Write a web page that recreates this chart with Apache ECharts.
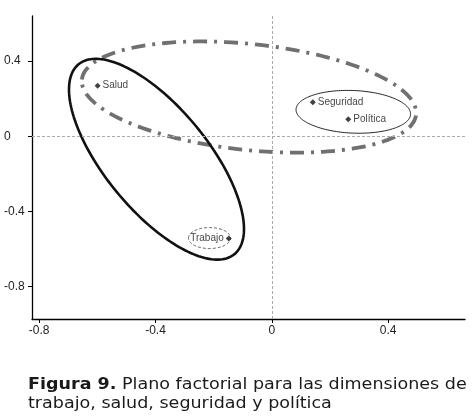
<!DOCTYPE html>
<html>
<head>
<meta charset="utf-8">
<script src="https://cdn.jsdelivr.net/npm/echarts@6/dist/echarts.min.js"></script>
<style>html,body{margin:0;padding:0;background:#fff}#c{width:474px;height:420px}</style>
</head>
<body>
<div id="c"></div>
<script>
// Points (dimension 1, dimension 2)
const categories = ['Salud', 'Seguridad', 'Política', 'Trabajo'];
const dim1 = [-0.599, 0.141, 0.263, -0.148];
const dim2 = [0.269, 0.181, 0.090, -0.544];

// Ellipses: centre and two conjugate semi-diameters, in data units
const ellipseNames = ['General', 'Salud–Trabajo', 'Seguridad–Política', 'Trabajo'];
const ellipseCx = [-0.0784, -0.3965, 0.2803, -0.2142];
const ellipseCy = [0.2087, -0.1225, 0.1299, -0.5421];
const ellipseUx = [0.5746, 0.2680, 0.1969, 0.0722];
const ellipseUy = [-0.0935, -0.5053, -0.0133, 0];
const ellipseVx = [-0.0191, -0.1368, -0.0032, 0];
const ellipseVy = [-0.2807, -0.1741, -0.1133, -0.0559];

// Tick labels
const xTickValues = [-0.8, -0.4, 0, 0.4];
const xTickLabels = ['-0.8', '-0.4', '0', '0.4'];
const yTickValues = [0.4, 0, -0.4, -0.8];
const yTickLabels = ['0.4', '0', '-0.4', '-0.8'];

const labelSide = { 'Salud': 'right', 'Seguridad': 'right', 'Política': 'right', 'Trabajo': 'left' };
const ellipseStyles = [
  { stroke: '#707070', lineWidth: 3.8, lineDash: [14, 7, 3, 7], lineCap: 'butt' },
  { stroke: '#111111', lineWidth: 2.6 },
  { stroke: '#222222', lineWidth: 1 },
  { stroke: '#555555', lineWidth: 1, lineDash: [3, 2] }
];

function fmt(values, labels) {
  return function (v) {
    const i = values.findIndex(t => Math.abs(t - v) < 1e-9);
    return i >= 0 ? labels[i] : '';
  };
}

const ellipseData = ellipseNames.map((n, i) => ({
  name: n,
  value: [ellipseCx[i], ellipseCy[i], ellipseUx[i], ellipseUy[i], ellipseVx[i], ellipseVy[i], i]
}));

const chart = echarts.init(document.getElementById('c'), null, { renderer: 'canvas' });
chart.setOption({
  animation: false,
  backgroundColor: '#fff',
  grid: { left: 32, top: 16, width: 433, height: 303, containLabel: false },
  xAxis: {
    type: 'value', min: -0.8246, max: 0.6644,
    axisLine: { show: true, onZero: false, lineStyle: { color: '#000', width: 1.3 } },
    axisTick: { show: true, length: 4, customValues: xTickValues, lineStyle: { color: '#000' } },
    axisLabel: { customValues: xTickValues, formatter: fmt(xTickValues, xTickLabels), margin: 6,
      color: '#222', fontSize: 12, fontFamily: 'Liberation Sans' },
    splitLine: { show: false }
  },
  yAxis: {
    type: 'value', min: -0.973, max: 0.640,
    axisLine: { show: true, onZero: false, lineStyle: { color: '#000', width: 1.3 } },
    axisTick: { show: true, length: 4, customValues: yTickValues, lineStyle: { color: '#000' } },
    axisLabel: { customValues: yTickValues, formatter: fmt(yTickValues, yTickLabels), margin: 28, align: 'left',
      color: '#222', fontSize: 12, fontFamily: 'Liberation Sans' },
    splitLine: { show: false }
  },
  series: [
    {
      type: 'custom',
      silent: true,
      data: ellipseData,
      encode: { x: 0, y: 1 },
      clip: false,
      z: 3,
      renderItem: function (params, api) {
        const cx = api.value(0), cy = api.value(1);
        const ux = api.value(2), uy = api.value(3), vx = api.value(4), vy = api.value(5);
        const k = api.value(6);
        const pts = [];
        const N = 180;
        for (let j = 0; j <= N; j++) {
          const t = (j / N) * Math.PI * 2 + Math.PI;
          pts.push(api.coord([cx + ux * Math.cos(t) + vx * Math.sin(t), cy + uy * Math.cos(t) + vy * Math.sin(t)]));
        }
        return {
          type: 'polyline',
          shape: { points: pts },
          style: Object.assign({ fill: null }, ellipseStyles[k])
        };
      }
    },
    {
      type: 'scatter',
      z: 5,
      symbol: 'diamond',
      symbolSize: 6,
      itemStyle: { color: '#111' },
      data: categories.map((c, i) => ({
        name: c, value: [dim1[i], dim2[i]],
        label: { position: labelSide[c] }
      })),
      label: {
        show: true, formatter: '{b}', distance: 2,
        color: '#111', fontSize: 10, fontFamily: 'Liberation Sans'
      },
      markLine: {
        silent: true, symbol: ['none', 'none'], animation: false,
        label: { show: false },
        lineStyle: { color: '#aaaaaa', type: [3, 2], width: 1 },
        data: [{ xAxis: 0 }, { yAxis: 0 }]
      }
    }
  ],
  graphic: [
    {
      type: 'group', x: 28, y: 377, scaleX: 1.095,
      children: [
        {
          type: 'text', x: 0, y: 0,
          style: {
            text: '{b|Figura 9.} Plano factorial para las dimensiones de',
            fontSize: 16, fontFamily: 'DejaVu Sans', fill: '#1a1a1a', verticalAlign: 'top',
            rich: { b: { fontSize: 16, fontFamily: 'DejaVu Sans', fontWeight: 'bold', fill: '#1a1a1a' } }
          }
        },
        {
          type: 'text', x: 0, y: 19,
          style: {
            text: 'trabajo, salud, seguridad y política',
            fontSize: 16, fontFamily: 'DejaVu Sans', fill: '#1a1a1a', verticalAlign: 'top'
          }
        }
      ]
    }
  ]
});
</script>
</body>
</html>
